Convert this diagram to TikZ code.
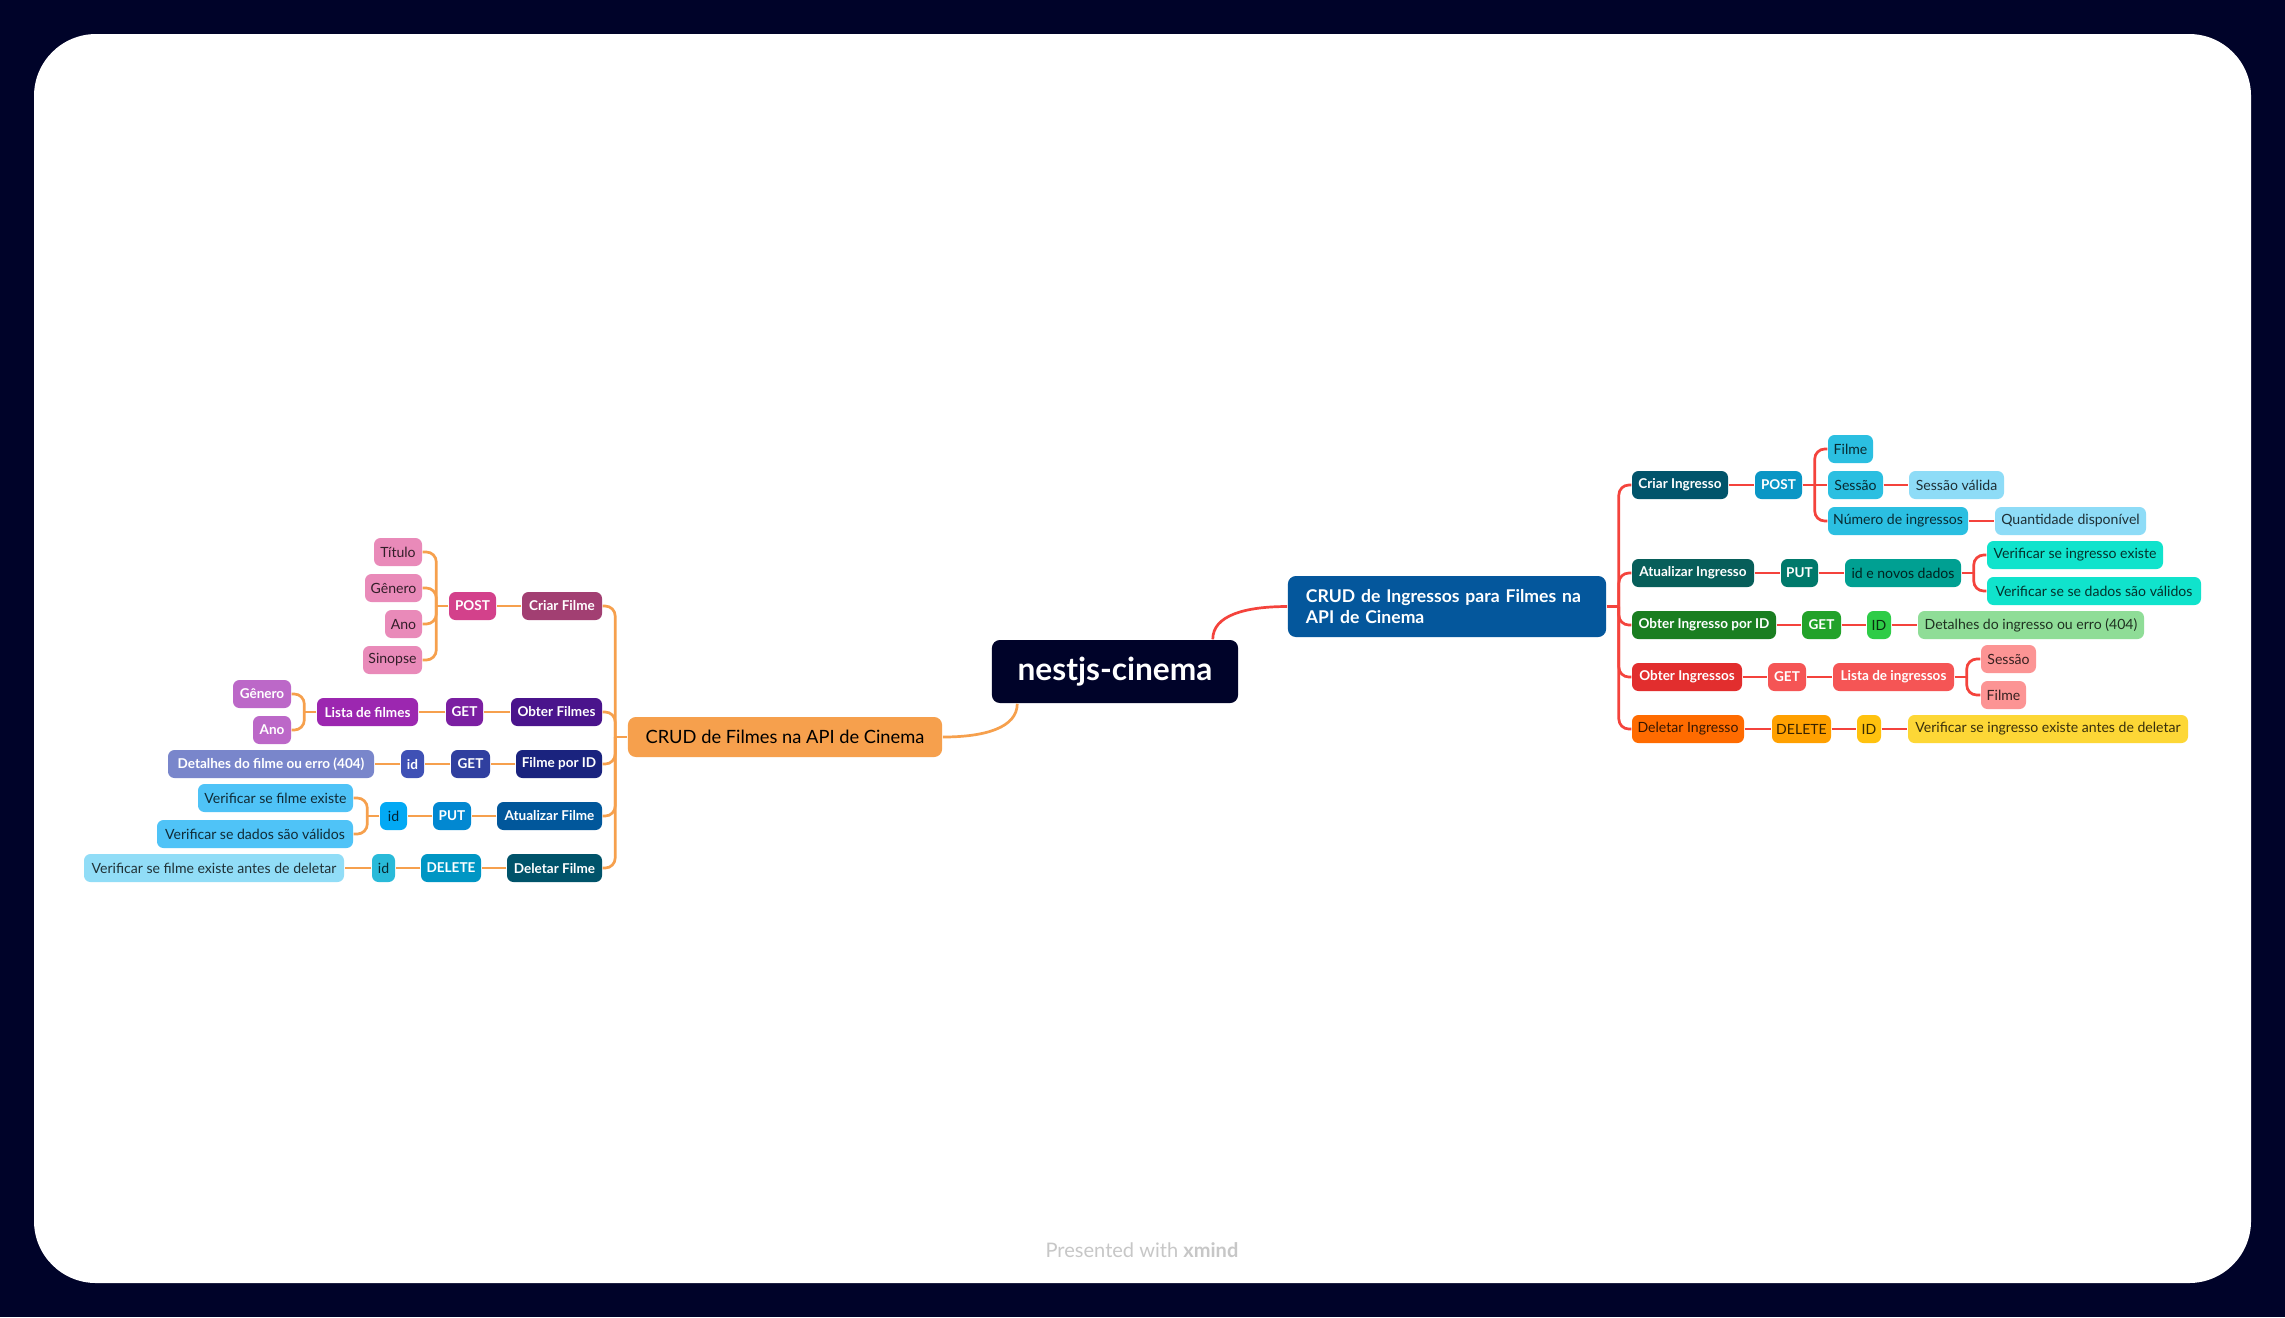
\documentclass[tikz,border=0pt]{standalone}
\usepackage{fontspec}
\setmainfont{Lato}
\definecolor{bgc}{HTML}{000329}
\definecolor{corange}{HTML}{F6A04D}
\definecolor{cred}{HTML}{F4433C}
\definecolor{pinkL}{HTML}{E98AB9}
\definecolor{postL}{HTML}{D3418B}
\definecolor{criarFc}{HTML}{A23F72}
\definecolor{purL}{HTML}{BC68C8}
\definecolor{listaFc}{HTML}{9C27B0}
\definecolor{getFa}{HTML}{7B1FA2}
\definecolor{obterFc}{HTML}{4A148C}
\definecolor{detFc}{HTML}{7986CB}
\definecolor{idFb}{HTML}{3F51B5}
\definecolor{getFb}{HTML}{303F9F}
\definecolor{filmeIDc}{HTML}{1A237E}
\definecolor{verFc}{HTML}{4FC3F7}
\definecolor{idFc}{HTML}{03A9F4}
\definecolor{putFc}{HTML}{0288D1}
\definecolor{atualFc}{HTML}{01579B}
\definecolor{verDelFc}{HTML}{91DDF7}
\definecolor{idFd}{HTML}{29BAD9}
\definecolor{delFc}{HTML}{0096C4}
\definecolor{deletFc}{HTML}{00536A}
\definecolor{crudIc}{HTML}{04579C}
\definecolor{criarIc}{HTML}{01546B}
\definecolor{postIc}{HTML}{0A96C5}
\definecolor{cyanI}{HTML}{2BBFE1}
\definecolor{lcyanI}{HTML}{8EDCF7}
\definecolor{atualIc}{HTML}{075E5A}
\definecolor{putIc}{HTML}{00796B}
\definecolor{idNovosc}{HTML}{00A092}
\definecolor{turqc}{HTML}{10E3CC}
\definecolor{obterIDc}{HTML}{1A7E21}
\definecolor{getGc}{HTML}{22A22A}
\definecolor{idGc}{HTML}{2ECC47}
\definecolor{detGc}{HTML}{8FDD97}
\definecolor{obterIsc}{HTML}{E22E2E}
\definecolor{getRc}{HTML}{F55555}
\definecolor{lredc}{HTML}{FC9494}
\definecolor{deletIc}{HTML}{FF6B00}
\definecolor{delOc}{HTML}{FFA000}
\definecolor{idYc}{HTML}{FFC20E}
\definecolor{verYc}{HTML}{FDD736}
\newcommand\nfs{\fontsize{4.0}{4.6}\selectfont}
\newcommand\nfsb{\fontsize{3.85}{4.4}\selectfont\bfseries}
\newcommand\nb[7]{\node[#2=#3, minimum width={(#5-#4)*0.01cm}] (#1) at ({(#4+#5)/2},#6) {#7};}
\tikzset{
  nd/.style={rounded corners=0.065cm, inner sep=0pt, minimum height=0.28cm, align=center},
  lt/.style={nd, fill=#1, text=#1!22!black, font=\nfs},
  dk/.style={nd, fill=#1, text=white, font=\nfsb},
  cF/.style={draw=corange, line width=0.027cm},
  cI/.style={draw=cred, line width=0.027cm},
  rc/.style={rounded corners=0.1cm},
}
\begin{document}
\begin{tikzpicture}[x=0.01cm,y=-0.01cm]
\useasboundingbox (0,0) rectangle (2285,1317);
\fill[bgc] (0,0) rectangle (2285,1317);
\fill[white, rounded corners=0.62cm] (34,34) rectangle (2251,1283);

% central
\node[fill=bgc, text=white, rounded corners=0.08cm, minimum width=2.46cm, minimum height=0.63cm, inner sep=0pt, font=\fontsize{9}{10}\selectfont\bfseries] (root) at (1115,671.5) {nestjs-cinema};
\node[fill=corange, text=black, rounded corners=0.08cm, minimum width=3.14cm, minimum height=0.40cm, inner sep=0pt, font=\fontsize{5.2}{6}\selectfont] (crudF) at (785,737) {CRUD de Filmes na API de Cinema};
\node[fill=crudIc, text=white, rounded corners=0.08cm, minimum width=3.18cm, minimum height=0.61cm, inner xsep=0.18cm, inner ysep=0pt, text width=2.82cm, align=left, font=\fontsize{5.0}{5.75}\selectfont\bfseries] (crudI) at (1447,606.5) {CRUD de Ingressos para Filmes na\\API de Cinema};

% left level 1
\nb{criarF}{dk}{criarFc}{522}{602}{606}{Criar Filme}
\nb{obterF}{dk}{obterFc}{511}{602}{712}{Obter Filmes}
\nb{filmeID}{dk}{filmeIDc}{516}{602}{764}{Filme por ID}
\nb{atualF}{dk}{atualFc}{497}{602}{816}{Atualizar Filme}
\nb{deletF}{dk}{deletFc}{507}{602}{868}{Deletar Filme}
% left level 2
\nb{postF}{dk}{postL}{449}{496}{606}{POST}
\nb{getFa}{dk}{getFa}{446}{483}{712}{GET}
\nb{getFb}{dk}{getFb}{451}{490}{764}{GET}
\nb{putF}{dk}{putFc}{433}{471}{816}{PUT}
\nb{delF}{dk}{delFc}{421}{481}{868}{DELETE}
% left level 3+
\nb{titulo}{lt}{pinkL}{374}{422}{552}{Título}
\nb{generoA}{lt}{pinkL}{365}{422}{588}{Gênero}
\nb{anoA}{lt}{pinkL}{385}{422}{624}{Ano}
\nb{sinopse}{lt}{pinkL}{363}{422}{660}{Sinopse}
\nb{listaF}{dk}{listaFc}{317}{418}{712}{Lista de filmes}
\nb{generoB}{dk}{purL}{233}{291}{694}{Gênero}
\nb{anoB}{dk}{purL}{253}{291}{730}{Ano}
\nb{idFb}{dk}{idFb}{401}{424}{764}{id}
\nb{detF}{dk}{detFc}{168}{374}{764}{Detalhes do filme ou erro (404)}
\nb{idFc}{lt}{idFc}{380}{407}{816}{id}
\nb{verFa}{lt}{verFc}{198}{353}{798}{Verificar se filme existe}
\nb{verFb}{lt}{verFc}{157}{353}{834}{Verificar se dados são válidos}
\nb{idFd}{lt}{idFd}{372}{395}{868}{id}
\nb{verDelF}{lt}{verDelFc}{84}{344}{868}{Verificar se filme existe antes de deletar}

% right level 1
\nb{criarI}{dk}{criarIc}{1632}{1728}{485}{Criar Ingresso}
\nb{atualI}{dk}{atualIc}{1632}{1754}{573}{Atualizar Ingresso}
\nb{obterID}{dk}{obterIDc}{1632}{1776}{625}{Obter Ingresso por ID}
\nb{obterIs}{dk}{obterIsc}{1632}{1742}{677}{Obter Ingressos}
\nb{deletI}{lt}{deletIc}{1632}{1744}{729}{Deletar Ingresso}
% right level 2
\nb{postI}{dk}{postIc}{1755}{1802}{485}{POST}
\nb{putI}{dk}{putIc}{1781}{1818}{573}{PUT}
\nb{getG}{dk}{getGc}{1802}{1841}{625}{GET}
\nb{getR}{dk}{getRc}{1768}{1806}{677}{GET}
\nb{delI}{lt}{delOc}{1772}{1831}{729}{DELETE}
% right level 3+
\nb{filmeI}{lt}{cyanI}{1828}{1873}{449}{Filme}
\nb{sessaoI}{lt}{cyanI}{1828}{1883}{485}{Sessão}
\nb{numI}{lt}{cyanI}{1828}{1968}{521}{Número de ingressos}
\nb{sessaoV}{lt}{lcyanI}{1909}{2004}{485}{Sessão válida}
\nb{qtd}{lt}{lcyanI}{1995}{2146}{521}{Quantidade disponível}
\nb{idNovos}{lt}{idNovosc}{1845}{1961}{573}{id e novos dados}
\nb{verIa}{lt}{turqc}{1987}{2163}{555}{Verificar se ingresso existe}
\nb{verIb}{lt}{turqc}{1987}{2201}{591}{Verificar se se dados são válidos}
\nb{idG}{lt}{idGc}{1867}{1891}{625}{ID}
\nb{detG}{lt}{detGc}{1918}{2144}{625}{Detalhes do ingresso ou erro (404)}
\nb{listaI}{dk}{getRc}{1833}{1954}{677}{Lista de ingressos}
\nb{sessaoR}{lt}{lredc}{1981}{2036}{659}{Sessão}
\nb{filmeR}{lt}{lredc}{1981}{2026}{695}{Filme}
\nb{idY}{lt}{idYc}{1857}{1881}{729}{ID}
\nb{verY}{lt}{verYc}{1908}{2188}{729}{Verificar se ingresso existe antes de deletar}

% trunk coordinates
\coordinate (tF) at ([xshift=-0.12cm]crudF.west);
\coordinate (tPF) at ([xshift=-0.12cm]postF.west);
\coordinate (tLF) at ([xshift=-0.12cm]listaF.west);
\coordinate (tIF) at ([xshift=-0.12cm]idFc.west);
\coordinate (tI) at ([xshift=0.12cm]crudI.east);
\coordinate (tPI) at ([xshift=0.12cm]postI.east);
\coordinate (tNI) at ([xshift=0.12cm]idNovos.east);
\coordinate (tLI) at ([xshift=0.12cm]listaI.east);
\coordinate (rA) at ([xshift=0.26cm]root.south west);
\coordinate (rB) at ([xshift=-0.26cm]root.north east);

% root curves
\draw[cF] (rA) .. controls +(0,24) and +(42,0) .. (crudF.east);
\draw[cI] (rB) .. controls +(0,-24) and +(-42,0) .. (crudI.west);

% left connectors
\draw[cF] (crudF.west) -- (tF);
\foreach \c in {criarF,obterF,filmeID,atualF,deletF} \draw[cF,rc] (tF) |- (\c.east);
\draw[cF] (criarF.west) -- (postF.east);
\draw[cF] (postF.west) -- (tPF);
\foreach \c in {titulo,generoA,anoA,sinopse} \draw[cF,rc] (tPF) |- (\c.east);
\draw[cF] (obterF.west) -- (getFa.east);
\draw[cF] (getFa.west) -- (listaF.east);
\draw[cF] (listaF.west) -- (tLF);
\foreach \c in {generoB,anoB} \draw[cF,rc] (tLF) |- (\c.east);
\draw[cF] (filmeID.west) -- (getFb.east);
\draw[cF] (getFb.west) -- (idFb.east);
\draw[cF] (idFb.west) -- (detF.east);
\draw[cF] (atualF.west) -- (putF.east);
\draw[cF] (putF.west) -- (idFc.east);
\draw[cF] (idFc.west) -- (tIF);
\foreach \c in {verFa,verFb} \draw[cF,rc] (tIF) |- (\c.east);
\draw[cF] (deletF.west) -- (delF.east);
\draw[cF] (delF.west) -- (idFd.east);
\draw[cF] (idFd.west) -- (verDelF.east);

% right connectors
\draw[cI] (crudI.east) -- (tI);
\foreach \c in {criarI,atualI,obterID,obterIs,deletI} \draw[cI,rc] (tI) |- (\c.west);
\draw[cI] (criarI.east) -- (postI.west);
\draw[cI] (postI.east) -- (sessaoI.west);
\foreach \c in {filmeI,numI} \draw[cI,rc] (tPI) |- (\c.west);
\draw[cI] (sessaoI.east) -- (sessaoV.west);
\draw[cI] (numI.east) -- (qtd.west);
\draw[cI] (atualI.east) -- (putI.west);
\draw[cI] (putI.east) -- (idNovos.west);
\draw[cI] (idNovos.east) -- (tNI);
\foreach \c in {verIa,verIb} \draw[cI,rc] (tNI) |- (\c.west);
\draw[cI] (obterID.east) -- (getG.west);
\draw[cI] (getG.east) -- (idG.west);
\draw[cI] (idG.east) -- (detG.west);
\draw[cI] (obterIs.east) -- (getR.west);
\draw[cI] (getR.east) -- (listaI.west);
\draw[cI] (listaI.east) -- (tLI);
\foreach \c in {sessaoR,filmeR} \draw[cI,rc] (tLI) |- (\c.west);
\draw[cI] (deletI.east) -- (delI.west);
\draw[cI] (delI.east) -- (idY.west);
\draw[cI] (idY.east) -- (verY.west);

% footer
\node[text=black!22, font=\fontsize{5.7}{6.5}\selectfont] (foot) at (1142,1250) {Presented with \textbf{xmind}};
\end{tikzpicture}
\end{document}
